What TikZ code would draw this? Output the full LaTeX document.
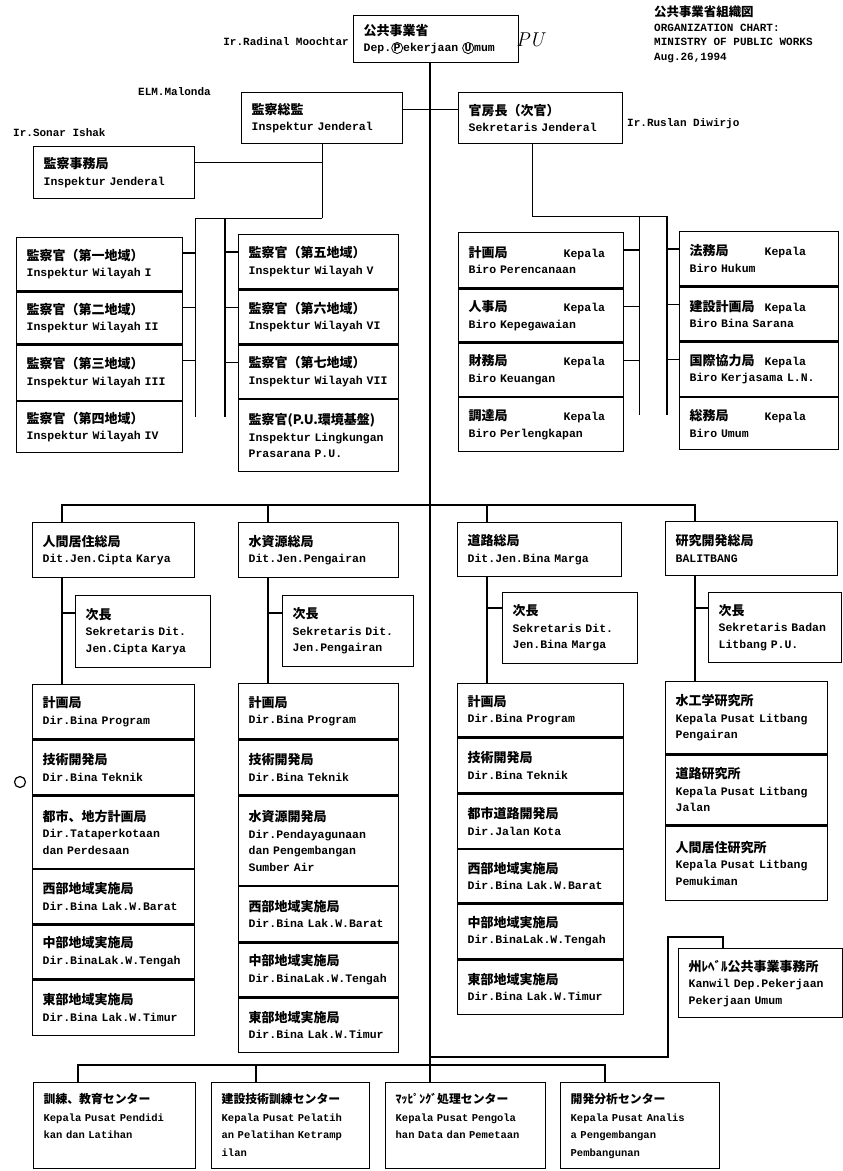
\documentclass[tikz,border=0pt]{standalone}
\usepackage{fontspec}
\setmonofont{Liberation Mono}
\newfontfamily\jp[Scale=1.13]{Noto Sans CJK JP}
\usepackage{tikz}
\usetikzlibrary{calc}
\newcommand\kep[2]{\makebox[#1][l]{\jp #2}Kepala}
\newcommand\topcell[1]{\parbox[t][82pt][t]{\linewidth}{\rule{0pt}{19pt}#1}}
\newcommand\ring[1]{\tikz[baseline=(r.base)]\node[draw,circle,inner sep=0.3pt,line width=0.8pt,
  minimum width=0pt,minimum height=0pt,text width=,anchor=base](r){#1};}

\begin{document}
\begin{tikzpicture}[x=1pt,y=-1pt,
  unit/.style 2 args={draw,line width=1.3pt,anchor=north west,inner xsep=10pt,inner ysep=2pt,
    text width=#1-20pt,minimum height=#2,align=left,
    font=\ttfamily\bfseries\fontsize{11.5}{16.5}\selectfont},
  lower/.style={font=\ttfamily\bfseries\fontsize{10.5}{17.5}\selectfont},
  link/.style={line width=1.3pt},
  person/.style={font=\ttfamily\bfseries\fontsize{11}{14}\selectfont,inner sep=1pt}
]
\fill[white] (0,0) rectangle (843,1171);
\useasboundingbox (0,0) rectangle (843,1171);

% minister and top labels
\node[unit={165pt}{47pt}] (menteri) at (353,15) {{\jp 公共事業省}\\Dep.\ring{P}ekerjaan \ring{U}mum};
\node[person,anchor=east] (radinal) at (350,42) {Ir.Radinal Moochtar};
\node[font=\itshape\fontsize{20}{20}\selectfont] (pu) at (530,40) {PU};
\node[person,anchor=north west,align=left,font=\ttfamily\bfseries\fontsize{11}{14.5}\selectfont] (title) at (653,5)
  {{\jp 公共事業省組織図}\\ORGANIZATION CHART:\\MINISTRY OF PUBLIC WORKS\\Aug.26,1994};

% inspectorate and secretariat
\node[unit={161pt}{51pt}] (itjen) at (241,92) {{\jp 監察総監}\\Inspektur Jenderal};
\node[person,anchor=east] (malonda) at (212,92) {ELM.Malonda};
\node[unit={164pt}{51pt}] (sekjen) at (458,92) {{\jp 官房長（次官）}\\Sekretaris Jenderal};
\node[person,anchor=west] (ruslan) at (626,124) {Ir.Ruslan Diwirjo};
\node[person,anchor=west] (sonar) at (12,133) {Ir.Sonar Ishak};
\node[unit={161pt}{52pt}] (itsek) at (33,146) {{\jp 監察事務局}\\Inspektur Jenderal};

\node[unit={166pt}{53pt}] (wl1) at (16,237) {{\jp 監察官（第一地域）}\\Inspektur Wilayah I};
\node[unit={166pt}{52pt}] (wl2) at (wl1.south west) {{\jp 監察官（第二地域）}\\Inspektur Wilayah II};
\node[unit={166pt}{55pt}] (wl3) at (wl2.south west) {{\jp 監察官（第三地域）}\\Inspektur Wilayah III};
\node[unit={166pt}{51pt}] (wl4) at (wl3.south west) {{\jp 監察官（第四地域）}\\Inspektur Wilayah IV};
\node[unit={160pt}{54pt}] (wr1) at (238,234) {{\jp 監察官（第五地域）}\\Inspektur Wilayah V};
\node[unit={160pt}{54pt}] (wr2) at (wr1.south west) {{\jp 監察官（第六地域）}\\Inspektur Wilayah VI};
\node[unit={160pt}{53pt}] (wr3) at (wr2.south west) {{\jp 監察官（第七地域）}\\Inspektur Wilayah VII};
\node[unit={160pt}{72pt}] (wr4) at (wr3.south west) {{\jp 監察官(P.U.環境基盤)}\\Inspektur Lingkungan\\Prasarana P.U.};

\node[unit={165pt}{55pt}] (bl1) at (458,232) {\kep{95pt}{計画局}\\Biro Perencanaan};
\node[unit={165pt}{53pt}] (bl2) at (bl1.south west) {\kep{95pt}{人事局}\\Biro Kepegawaian};
\node[unit={165pt}{53pt}] (bl3) at (bl2.south west) {\kep{95pt}{財務局}\\Biro Keuangan};
\node[unit={165pt}{54pt}] (bl4) at (bl3.south west) {\kep{95pt}{調達局}\\Biro Perlengkapan};
\node[unit={159pt}{54pt}] (br1) at (679,231) {\kep{75pt}{法務局}\\Biro Hukum};
\node[unit={159pt}{54pt}] (br2) at (br1.south west) {\kep{75pt}{建設計画局}\\Biro Bina Sarana};
\node[unit={159pt}{54pt}] (br3) at (br2.south west) {\kep{75pt}{国際協力局}\\Biro Kerjasama L.N.};
\node[unit={159pt}{52pt}] (br4) at (br3.south west) {\kep{75pt}{総務局}\\Biro Umum};

% directorates general
\node[unit={162pt}{55pt}] (cipta) at (32,522) {{\jp 人間居住総局}\\Dit.Jen.Cipta Karya};
\node[unit={160pt}{55pt}] (air) at (238,522) {{\jp 水資源総局}\\Dit.Jen.Pengairan};
\node[unit={164pt}{54pt}] (marga) at (457,522) {{\jp 道路総局}\\Dit.Jen.Bina Marga};
\node[unit={172pt}{54pt}] (litbang) at (665,521) {{\jp 研究開発総局}\\BALITBANG};

\node[unit={135pt}{72pt}] (sc) at (75,595) {{\jp 次長}\\Sekretaris Dit.\\Jen.Cipta Karya};
\node[unit={131pt}{71pt}] (sa) at (282,595) {{\jp 次長}\\Sekretaris Dit.\\Jen.Pengairan};
\node[unit={135pt}{71pt}] (sm) at (502,592) {{\jp 次長}\\Sekretaris Dit.\\Jen.Bina Marga};
\node[unit={133pt}{70pt}] (sl) at (708,592) {{\jp 次長}\\Sekretaris Badan\\Litbang P.U.};

% directorates
\node[unit={162pt}{54pt}] (c1) at (32,684) {{\jp 計画局}\\Dir.Bina Program};
\node[unit={162pt}{55pt}] (c2) at (c1.south west) {{\jp 技術開発局}\\Dir.Bina Teknik};
\node[unit={162pt}{72pt}] (c3) at (c2.south west) {{\jp 都市、地方計画局}\\Dir.Tataperkotaan\\dan Perdesaan};
\node[unit={162pt}{54pt}] (c4) at (c3.south west) {{\jp 西部地域実施局}\\Dir.Bina Lak.W.Barat};
\node[unit={162pt}{54pt}] (c5) at (c4.south west) {{\jp 中部地域実施局}\\Dir.BinaLak.W.Tengah};
\node[unit={162pt}{55pt}] (c6) at (c5.south west) {{\jp 東部地域実施局}\\Dir.Bina Lak.W.Timur};

\node[unit={160pt}{55pt}] (a1) at (238,683) {{\jp 計画局}\\Dir.Bina Program};
\node[unit={160pt}{55pt}] (a2) at (a1.south west) {{\jp 技術開発局}\\Dir.Bina Teknik};
\node[unit={160pt}{89pt}] (a3) at (a2.south west) {{\jp 水資源開発局}\\Dir.Pendayagunaan\\dan Pengembangan\\Sumber Air};
\node[unit={160pt}{55pt}] (a4) at (a3.south west) {{\jp 西部地域実施局}\\Dir.Bina Lak.W.Barat};
\node[unit={160pt}{54pt}] (a5) at (a4.south west) {{\jp 中部地域実施局}\\Dir.BinaLak.W.Tengah};
\node[unit={160pt}{54pt}] (a6) at (a5.south west) {{\jp 東部地域実施局}\\Dir.Bina Lak.W.Timur};

\node[unit={166pt}{53pt}] (m1) at (457,683) {{\jp 計画局}\\Dir.Bina Program};
\node[unit={166pt}{55pt}] (m2) at (m1.south west) {{\jp 技術開発局}\\Dir.Bina Teknik};
\node[unit={166pt}{54pt}] (m3) at (m2.south west) {{\jp 都市道路開発局}\\Dir.Jalan Kota};
\node[unit={166pt}{53pt}] (m4) at (m3.south west) {{\jp 西部地域実施局}\\Dir.Bina Lak.W.Barat};
\node[unit={166pt}{55pt}] (m5) at (m4.south west) {{\jp 中部地域実施局}\\Dir.BinaLak.W.Tengah};
\node[unit={166pt}{54pt}] (m6) at (m5.south west) {{\jp 東部地域実施局}\\Dir.Bina Lak.W.Timur};

\node[unit={162pt}{72pt}] (l1) at (665,681) {{\jp 水工学研究所}\\Kepala Pusat Litbang\\Pengairan};
\node[unit={162pt}{70pt}] (l2) at (l1.south west) {{\jp 道路研究所}\\Kepala Pusat Litbang\\Jalan};
\node[unit={162pt}{74pt}] (l3) at (l2.south west) {{\jp 人間居住研究所}\\Kepala Pusat Litbang\\Pemukiman};

\node[unit={164pt}{69pt}] (kanwil) at (678,948) {{\jp 州ﾚﾍﾞﾙ公共事業事務所}\\Kanwil Dep.Pekerjaan\\Pekerjaan Umum};

% centres
\node[unit={162pt}{10pt},lower] (b1) at (33,1082) {\topcell{{\jp 訓練、教育センター}\\Kepala Pusat Pendidi\\kan dan Latihan}};
\node[unit={158pt}{10pt},lower] (b2) at (211,1082) {\topcell{{\jp 建設技術訓練センター}\\Kepala Pusat Pelatih\\an Pelatihan Ketramp\\ilan}};
\node[unit={160pt}{10pt},lower] (b3) at (385,1082) {\topcell{{\jp ﾏｯﾋﾟﾝｸﾞ処理センター}\\Kepala Pusat Pengola\\han Data dan Pemetaan}};
\node[unit={159pt}{10pt},lower] (b4) at (560,1082) {\topcell{{\jp 開発分析センター}\\Kepala Pusat Analis\\a Pengembangan\\Pembangunan}};

\node[draw,circle,line width=1.2pt,minimum size=11pt,inner sep=0pt] (mark) at (20,782) {};

% connectors
\coordinate (spine) at ($(b3.north west)+(45,0)$);
\coordinate (itbus) at ($(itjen.south)+(0,74)$);
\draw[link] (menteri.south -| spine) -- (spine);
\draw[link] ([yshift=9pt]itjen.east) -- ([yshift=9pt]sekjen.west);
\draw[link] (itjen.south) -- (itbus);
\draw[link] (itjen.south) |- ([yshift=10pt]itsek.east);
\draw[link] (itbus) -| ($(wl4.north east)+(12,16)$);
\draw[link] (itbus) -| ($(wr4.north west)+(-13,18)$);
\draw[link] (wl1.north east) ++(0,16) -- ++(12,0);
\draw[link] (wl2.north east) ++(0,16) -- ++(12,0);
\draw[link] (wl3.north east) ++(0,16) -- ++(12,0);
\draw[link] (wr1.north west) ++(0,18) -- ++(-13,0);
\draw[link] (wr2.north west) ++(0,18) -- ++(-13,0);
\draw[link] (wr3.north west) ++(0,18) -- ++(-13,0);

\draw[link] ([xshift=-8pt]sekjen.south) -- ++(0,72) -| ($(bl4.north east)+(15,18)$);
\draw[link] ([xshift=-8pt]sekjen.south) ++(0,72) -| ($(br4.north west)+(-12,18)$);
\draw[link] (bl1.north east) ++(0,18) -- ++(15,0);
\draw[link] (bl2.north east) ++(0,18) -- ++(15,0);
\draw[link] (bl3.north east) ++(0,18) -- ++(15,0);
\draw[link] (br1.north west) ++(0,18) -- ++(-12,0);
\draw[link] (br2.north west) ++(0,18) -- ++(-12,0);
\draw[link] (br3.north west) ++(0,18) -- ++(-12,0);

\draw[link] ($(cipta.north west)+(30,0)$) -- ++(0,-17) -- ($(litbang.north west)+(30,-16)$) -- ++(0,16);
\draw[link] ($(air.north west)+(30,0)$) -- ++(0,-17);
\draw[link] ($(marga.north west)+(30,0)$) -- ++(0,-17);

\draw[link] ($(cipta.south west)+(30,0)$) -- ($(c1.north west)+(30,0)$);
\draw[link] ($(air.south west)+(30,0)$) -- ($(a1.north west)+(30,0)$);
\draw[link] ($(marga.south west)+(30,0)$) -- ($(m1.north west)+(30,0)$);
\draw[link] ($(litbang.south west)+(30,0)$) -- ($(l1.north west)+(30,0)$);
\draw[link] (sc.north west) ++(0,18) -- ++(-13,0);
\draw[link] (sa.north west) ++(0,18) -- ++(-14,0);
\draw[link] (sm.north west) ++(0,16) -- ++(-15,0);
\draw[link] (sl.north west) ++(0,16) -- ++(-13,0);

\draw[link] ($(kanwil.north west)+(45,0)$) |- ($(kanwil.north west)+(-10,-11)$) -- ($(kanwil.north west)+(-10,109)$) -- ++(-238,0);

\draw[link] ($(b1.north west)+(45,0)$) -- ++(0,-17) -| ($(b4.north west)+(45,0)$);
\draw[link] ($(b2.north west)+(45,0)$) -- ++(0,-17);
\end{tikzpicture}
\end{document}
